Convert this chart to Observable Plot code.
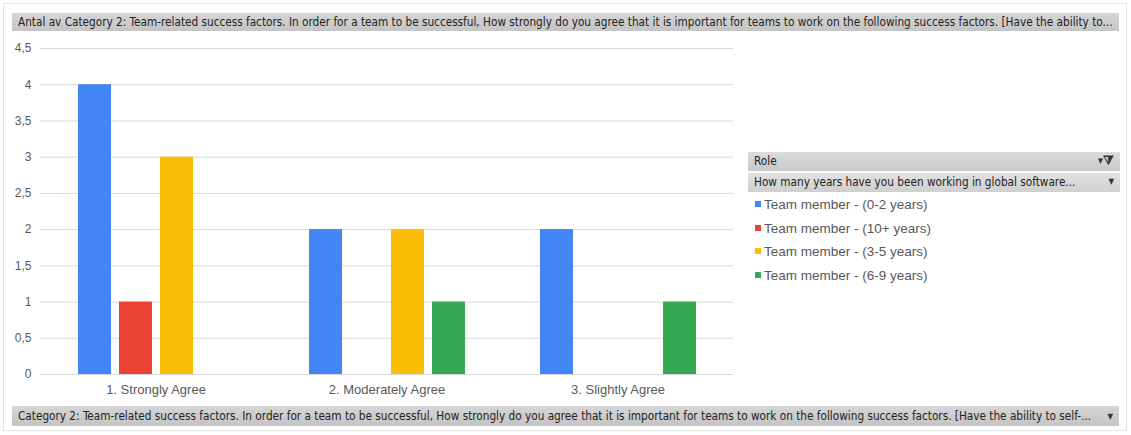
<!DOCTYPE html>
<html><head><meta charset="utf-8">
<script src="https://cdn.jsdelivr.net/npm/d3@7"></script>
<script src="https://cdn.jsdelivr.net/npm/@observablehq/plot@0.6"></script>
<style>
body{margin:0;background:#fff;font-family:"Liberation Sans",Arial,sans-serif;}
#wrap{position:relative;width:1131px;height:435px;overflow:hidden;background:#fff;}
#frame{position:absolute;left:3px;top:3px;width:1124px;height:428px;border:1px solid #e4e4e4;box-sizing:border-box;}
.bar{position:absolute;background:linear-gradient(#d6d6d6,#c4c4c4);color:#222;font-size:11px;white-space:nowrap;overflow:hidden;box-sizing:border-box;padding-left:6px;line-height:18px;font-family:"DejaVu Sans Condensed","Liberation Sans Narrow",sans-serif;}
.arrow{position:absolute;right:6px;top:0;font-size:8px;color:#333;}
#chart{position:absolute;left:0;top:31px;}
.leg{position:absolute;left:755px;font-size:13.5px;color:#595959;font-family:"Liberation Sans",Arial,sans-serif;}
.sw{display:inline-block;width:6px;height:6px;margin-right:3px;vertical-align:2px;}
</style></head>
<body><div id="wrap">
<div id="frame"></div>
<div class="bar" id="title" style="left:12px;top:13px;width:1107px;height:18px;font-size:11.7px;"></div>
<div id="chart"></div>
<div class="bar" style="left:748px;top:152px;width:372px;height:19px;background:linear-gradient(#dcdcdc,#c8c8c8);font-size:11.7px;">Role<span class="arrow" style="font-size:11px;top:-1px;">▾<b style="font-size:12px">⧩</b></span></div>
<div class="bar" style="left:748px;top:173px;width:372px;height:19px;background:linear-gradient(#e2e2e2,#cfcfcf);font-size:11.7px;">How many years have you been working in global software...<span class="arrow">▼</span></div>
<div id="legend"></div>
<div class="bar" id="footer" style="left:12px;top:406px;width:1107px;height:20px;line-height:20px;font-size:11.7px;"></div>
</div>
<script>
const categories = ["1. Strongly Agree", "2. Moderately Agree", "3. Slightly Agree"];
const series = ["Team member - (0-2 years)", "Team member - (10+ years)", "Team member - (3-5 years)", "Team member - (6-9 years)"];
const colors = ["#4285F4", "#EA4335", "#FBBC04", "#34A853"];
const values0to2 = [4, 2, 2];
const values10plus = [1, 0, 0];
const values3to5 = [3, 2, 0];
const values6to9 = [0, 1, 1];
const yTicks = [0, 0.5, 1, 1.5, 2, 2.5, 3, 3.5, 4, 4.5];
const titleText = "Antal av Category 2: Team-related success factors. In order for a team to be successful, How strongly do you agree that it is important for teams to work on the following success factors. [Have the ability to...";
const footerText = "Category 2: Team-related success factors. In order for a team to be successful, How strongly do you agree that it is important for teams to work on the following success factors. [Have the ability to self-...";

document.getElementById("title").textContent = titleText;
document.getElementById("footer").innerHTML = footerText + '<span class="arrow" style="top:1px">▼</span>';

const seriesValues = [values0to2, values10plus, values3to5, values6to9];
const data = [];
categories.forEach((c, i) => series.forEach((s, j) => {
  if (seriesValues[j][i] > 0) data.push({category: c, series: s, value: seriesValues[j][i]});
}));

const chart = Plot.plot({
  width: 735, height: 375,
  marginLeft: 40, marginRight: 2, marginTop: 17, marginBottom: 32,
  style: {fontFamily: "'Liberation Sans', Arial, sans-serif", fontSize: "12px", color: "#595959", background: "transparent"},
  fx: {domain: categories, padding: 0, label: null},
  x: {domain: series, paddingInner: 0.2, paddingOuter: 0.9, axis: null},
  y: {domain: [0, 4.5], ticks: yTicks, label: null},
  color: {domain: series, range: colors},
  marks: [
    Plot.gridY(yTicks, {stroke: "#d9d9d9", strokeOpacity: 1}),
    Plot.axisY(yTicks, {tickFormat: d => String(d).replace(".", ","), tickSize: 0, tickPadding: 9, fontSize: 12}),
    Plot.axisFx({anchor: "bottom", tickSize: 0, tickPadding: 10, fontSize: 13, label: null}),
    Plot.barY(data, {fx: "category", x: "series", y: "value", fill: "series"})
  ]
});
document.getElementById("chart").appendChild(chart);

const leg = document.getElementById("legend");
series.forEach((s, i) => {
  const d = document.createElement("div");
  d.className = "leg";
  d.style.top = (197 + i * 23.7) + "px";
  d.innerHTML = `<span class="sw" style="background:${colors[i]}"></span>${s}`;
  leg.appendChild(d);
});
</script>
</body></html>
